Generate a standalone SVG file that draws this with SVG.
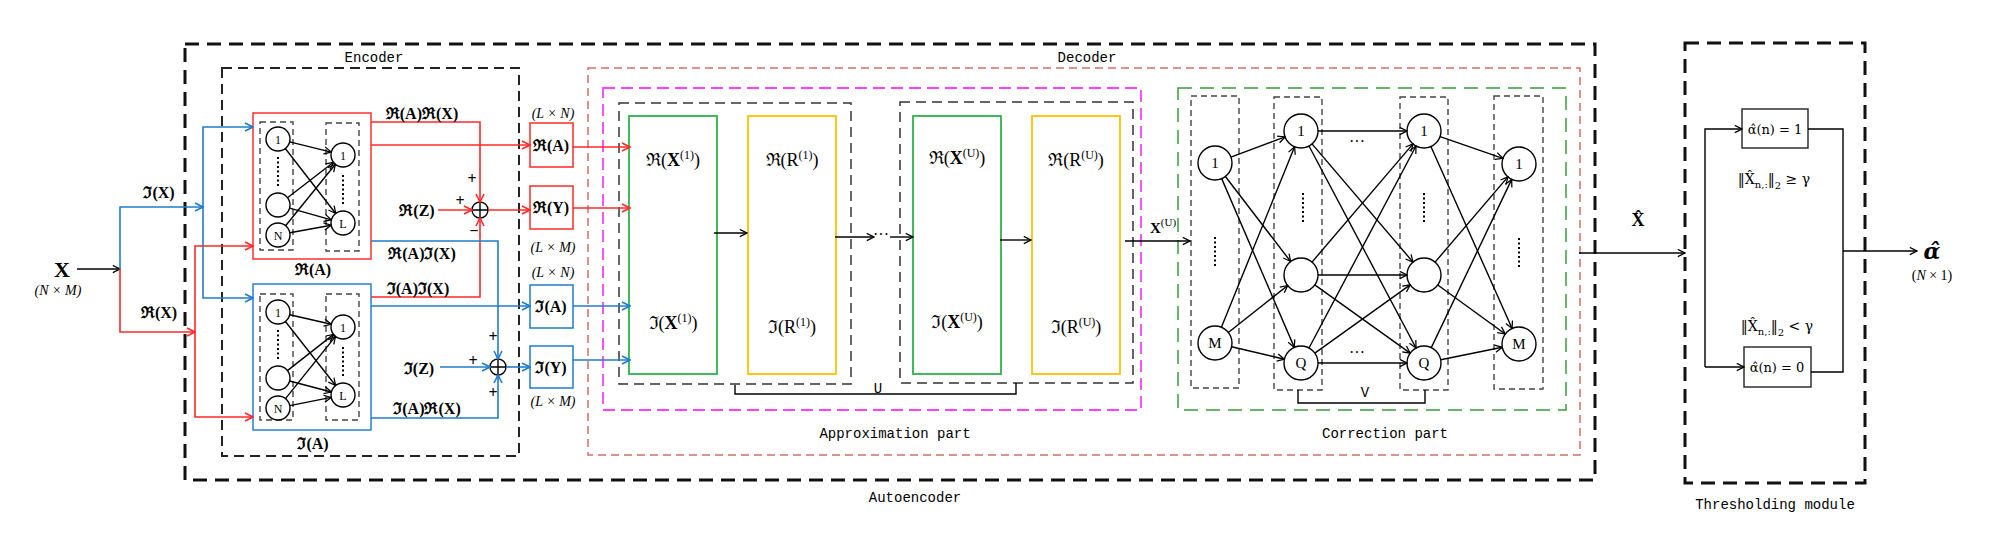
<svg xmlns="http://www.w3.org/2000/svg" width="1992" height="557" viewBox="0 0 1992 557">
<style>
text{fill:#000}
.lbl{font-family:"Liberation Mono","DejaVu Sans Mono",monospace;font-size:14px}
.m{font-family:"Liberation Serif","DejaVu Serif",serif}
.dj{font-family:"DejaVu Serif","Liberation Serif",serif}
.mb{font-family:"Liberation Serif","DejaVu Serif",serif;font-weight:bold;font-size:16px}
.nd{font-family:"Liberation Serif","DejaVu Serif",serif;font-size:12px}
.nc{font-family:"Liberation Serif","DejaVu Serif",serif;font-size:15px}
.big{font-family:"Liberation Serif","DejaVu Serif",serif;font-size:18px}
.c{fill:#fff;stroke:#000;stroke-width:1.4}
.col{fill:none;stroke:#444;stroke-width:1.4;stroke-dasharray:6 4}
.dots{fill:none;stroke:#000;stroke-width:2;stroke-dasharray:2 2.5}
.k{fill:none;stroke:#000;stroke-width:1.4}
.r{fill:none;stroke:#ff2a2a;stroke-width:1.6}
.b{fill:none;stroke:#1f7ccc;stroke-width:1.6}
</style>
<defs>
<marker id="ak" viewBox="0 0 10 10" refX="9" refY="5" markerWidth="9" markerHeight="9" markerUnits="userSpaceOnUse" orient="auto"><path d="M1,1 L9,5 L1,9" fill="none" stroke="#000" stroke-width="1.4"/></marker>
<marker id="ar" viewBox="0 0 10 10" refX="9" refY="5" markerWidth="10" markerHeight="10" markerUnits="userSpaceOnUse" orient="auto"><path d="M1,1 L9,5 L1,9" fill="none" stroke="#ff2a2a" stroke-width="1.6"/></marker>
<marker id="ab" viewBox="0 0 10 10" refX="9" refY="5" markerWidth="10" markerHeight="10" markerUnits="userSpaceOnUse" orient="auto"><path d="M1,1 L9,5 L1,9" fill="none" stroke="#1f7ccc" stroke-width="1.6"/></marker>
</defs>
<rect width="1992" height="557" fill="#fff"/>

<!-- containers -->
<g id="autoencoder">
<rect x="185" y="44" width="1410" height="436" fill="none" stroke="#111" stroke-width="3" stroke-dasharray="14 8"/>
<text class="lbl" x="915" y="502" text-anchor="middle">Autoencoder</text>
</g>
<g id="encoder">
<rect x="222" y="68" width="297" height="388" fill="none" stroke="#222" stroke-width="2" stroke-dasharray="10 6"/>
<text class="lbl" x="374" y="62" text-anchor="middle">Encoder</text>
</g>
<g id="decoder">
<rect x="588" y="68" width="992" height="387" fill="none" stroke="#d0706a" stroke-width="1.5" stroke-dasharray="8 5"/>
<text class="lbl" x="1087" y="62" text-anchor="middle">Decoder</text>
</g>
<g id="approximation">
<rect x="603" y="88" width="538" height="322" fill="none" stroke="#ff40ff" stroke-width="1.8" stroke-dasharray="12 6"/>
<text class="lbl" x="895" y="438" text-anchor="middle">Approximation part</text>
<rect x="619" y="103" width="232" height="281" fill="none" stroke="#333" stroke-width="1.5" stroke-dasharray="10 6"/>
<rect x="900" y="102" width="233" height="281" fill="none" stroke="#333" stroke-width="1.5" stroke-dasharray="10 6"/>
</g>
<g id="correction">
<rect x="1178" y="88" width="388" height="322" fill="none" stroke="#3a9a3a" stroke-width="1.5" stroke-dasharray="14 8"/>
<text class="lbl" x="1385" y="438" text-anchor="middle">Correction part</text>
<rect class="col" x="1191" y="96" width="48" height="292"/>
<rect class="col" x="1274" y="97" width="48" height="293"/>
<rect class="col" x="1400" y="97" width="48" height="293"/>
<rect class="col" x="1494" y="96" width="49" height="293"/>
</g>
<g id="thresholding">
<rect x="1685" y="43" width="180" height="440" fill="none" stroke="#111" stroke-width="3" stroke-dasharray="14 8"/>
<text class="lbl" x="1775" y="509" text-anchor="middle">Thresholding module</text>
</g>

<!-- input -->
<g id="input-X">
<text class="m" x="62" y="277" text-anchor="middle" font-size="22" font-weight="bold">X</text>
<text class="m" x="58" y="295" text-anchor="middle" font-size="14" font-style="italic">(N × M)</text>
</g>

<!-- encoder real net -->
<g id="enc-real">
<rect x="253" y="113" width="118" height="146" fill="none" stroke="#ff3030" stroke-width="1.5"/>
<rect class="col" x="260" y="122" width="33" height="128"/>
<rect class="col" x="326" y="123" width="33" height="128"/>
<circle class="c" cx="278" cy="139" r="12"/><text class="nd" x="278" y="143.5" text-anchor="middle">1</text>
<line class="dots" x1="278" y1="157" x2="278" y2="188"/>
<circle class="c" cx="278" cy="205" r="12"/>
<circle class="c" cx="278" cy="235" r="12"/><text class="nd" x="278" y="239.5" text-anchor="middle" font-size="11">N</text>
<circle class="c" cx="343" cy="155" r="12"/><text class="nd" x="343" y="159.5" text-anchor="middle">1</text>
<line class="dots" x1="343" y1="175" x2="343" y2="206"/>
<circle class="c" cx="343" cy="223" r="12"/><text class="nd" x="343" y="227.5" text-anchor="middle" font-size="11">L</text>
<text class="mb" x="313" y="275" text-anchor="middle">ℜ(A)</text>
</g>
<!-- encoder imaginary net -->
<g id="enc-imag">
<rect x="253" y="284" width="118" height="146" fill="none" stroke="#2a80d0" stroke-width="1.5"/>
<rect class="col" x="260" y="294" width="33" height="126"/>
<rect class="col" x="326" y="294" width="33" height="126"/>
<circle class="c" cx="278" cy="312" r="12"/><text class="nd" x="278" y="316.5" text-anchor="middle">1</text>
<line class="dots" x1="278" y1="330" x2="278" y2="361"/>
<circle class="c" cx="278" cy="378" r="12"/>
<circle class="c" cx="278" cy="408" r="12"/><text class="nd" x="278" y="412.5" text-anchor="middle" font-size="11">N</text>
<circle class="c" cx="343" cy="327" r="12"/><text class="nd" x="343" y="331.5" text-anchor="middle">1</text>
<line class="dots" x1="343" y1="347" x2="343" y2="378"/>
<circle class="c" cx="343" cy="395" r="12"/><text class="nd" x="343" y="399.5" text-anchor="middle" font-size="11">L</text>
<text class="mb" x="313" y="449" text-anchor="middle">ℑ(A)</text>
</g>

<!-- sum nodes -->
<g id="sum-real">
<circle cx="480" cy="210" r="8" fill="#fff" stroke="#000" stroke-width="1.4"/>
<path d="M472,210 H488 M480,202 V218" stroke="#000" stroke-width="1.4"/>
<text class="mb" x="472" y="184" text-anchor="middle">+</text>
<text class="mb" x="460" y="206" text-anchor="middle">+</text>
<text class="mb" x="474" y="236" text-anchor="middle">−</text>
</g>
<g id="sum-imag">
<circle cx="498" cy="367" r="8" fill="#fff" stroke="#000" stroke-width="1.4"/>
<path d="M490,367 H506 M498,359 V375" stroke="#000" stroke-width="1.4"/>
<text class="mb" x="493" y="342" text-anchor="middle">+</text>
<text class="mb" x="473" y="366" text-anchor="middle">+</text>
<text class="mb" x="493" y="398" text-anchor="middle">+</text>
</g>

<!-- small boxes -->
<g id="box-ReA">
<rect x="530" y="123" width="43" height="44" fill="none" stroke="#ff2a2a" stroke-width="1.5"/>
<text class="mb" x="551" y="151" text-anchor="middle">ℜ(A)</text>
<text class="m" x="553" y="118" text-anchor="middle" font-size="14" font-style="italic">(L × N)</text>
</g>
<g id="box-ReY">
<rect x="530" y="186" width="43" height="43" fill="none" stroke="#ff2a2a" stroke-width="1.5"/>
<text class="mb" x="551" y="213" text-anchor="middle">ℜ(Y)</text>
<text class="m" x="553" y="252" text-anchor="middle" font-size="14" font-style="italic">(L × M)</text>
</g>
<g id="box-ImA">
<rect x="530" y="285" width="43" height="43" fill="none" stroke="#1f7ccc" stroke-width="1.5"/>
<text class="mb" x="551" y="312" text-anchor="middle">ℑ(A)</text>
<text class="m" x="553" y="277" text-anchor="middle" font-size="14" font-style="italic">(L × N)</text>
</g>
<g id="box-ImY">
<rect x="530" y="346" width="43" height="42" fill="none" stroke="#1f7ccc" stroke-width="1.5"/>
<text class="mb" x="551" y="373" text-anchor="middle">ℑ(Y)</text>
<text class="m" x="553" y="406" text-anchor="middle" font-size="14" font-style="italic">(L × M)</text>
</g>

<!-- approximation blocks -->
<g id="layer1-x">
<rect x="629" y="116" width="88" height="258" fill="none" stroke="#2cb34a" stroke-width="1.8"/>
<text class="big" x="673" y="166" text-anchor="middle">ℜ(<tspan font-weight="bold">X</tspan><tspan font-size="12" dy="-7">(1)</tspan><tspan dy="7">)</tspan></text>
<text class="big" x="673" y="329" text-anchor="middle">ℑ(<tspan font-weight="bold">X</tspan><tspan font-size="12" dy="-7">(1)</tspan><tspan dy="7">)</tspan></text>
</g>
<g id="layer1-r">
<rect x="748" y="116" width="88" height="258" fill="none" stroke="#ffc000" stroke-width="1.8"/>
<text class="big" x="792" y="166" text-anchor="middle">ℜ(R<tspan font-size="12" dy="-7">(1)</tspan><tspan dy="7">)</tspan></text>
<text class="big" x="792" y="333" text-anchor="middle">ℑ(R<tspan font-size="12" dy="-7">(1)</tspan><tspan dy="7">)</tspan></text>
</g>
<g id="layerU-x">
<rect x="913" y="116" width="88" height="258" fill="none" stroke="#2cb34a" stroke-width="1.8"/>
<text class="big" x="957" y="164" text-anchor="middle">ℜ(<tspan font-weight="bold">X</tspan><tspan font-size="12" dy="-7">(U)</tspan><tspan dy="7">)</tspan></text>
<text class="big" x="957" y="328" text-anchor="middle">ℑ(<tspan font-weight="bold">X</tspan><tspan font-size="12" dy="-7">(U)</tspan><tspan dy="7">)</tspan></text>
</g>
<g id="layerU-r">
<rect x="1032" y="116" width="88" height="258" fill="none" stroke="#ffc000" stroke-width="1.8"/>
<text class="big" x="1076" y="166" text-anchor="middle">ℜ(R<tspan font-size="12" dy="-7">(U)</tspan><tspan dy="7">)</tspan></text>
<text class="big" x="1076" y="333" text-anchor="middle">ℑ(R<tspan font-size="12" dy="-7">(U)</tspan><tspan dy="7">)</tspan></text>
</g>
<g id="bracket-U">
<path class="k" d="M735,385 V394 H1016 V383" stroke="#333"/>
<text class="lbl" x="878" y="393" text-anchor="middle">U</text>
</g>

<!-- correction nodes -->
<g id="corr-nodes">
<circle class="c" cx="1215" cy="163" r="17"/><text class="nc" x="1215" y="168" text-anchor="middle">1</text>
<line class="dots" x1="1215" y1="237" x2="1215" y2="268"/>
<circle class="c" cx="1215" cy="343" r="17"/><text class="nc" x="1215" y="348" text-anchor="middle" font-size="13">M</text>
<circle class="c" cx="1301" cy="131" r="17"/><text class="nc" x="1301" y="136" text-anchor="middle">1</text>
<line class="dots" x1="1303" y1="193" x2="1303" y2="224"/>
<circle class="c" cx="1301" cy="275" r="17"/>
<circle class="c" cx="1301" cy="363" r="17"/><text class="nc" x="1301" y="368" text-anchor="middle" font-size="13">Q</text>
<circle class="c" cx="1424" cy="131" r="17"/><text class="nc" x="1424" y="136" text-anchor="middle">1</text>
<line class="dots" x1="1424" y1="193" x2="1424" y2="224"/>
<circle class="c" cx="1424" cy="275" r="17"/>
<circle class="c" cx="1424" cy="363" r="17"/><text class="nc" x="1424" y="368" text-anchor="middle" font-size="13">Q</text>
<circle class="c" cx="1519" cy="164" r="17"/><text class="nc" x="1519" y="169" text-anchor="middle">1</text>
<line class="dots" x1="1519" y1="238" x2="1519" y2="269"/>
<circle class="c" cx="1519" cy="344" r="17"/><text class="nc" x="1519" y="349" text-anchor="middle" font-size="13">M</text>
<text class="m" x="1357" y="147" text-anchor="middle" font-size="16">···</text>
<text class="m" x="1357" y="358" text-anchor="middle" font-size="16">···</text>
</g>
<g id="bracket-V">
<path class="k" d="M1298,390 V403 H1425 V390" stroke="#333"/>
<text class="lbl" x="1365" y="397" text-anchor="middle">V</text>
</g>

<!-- threshold blocks -->
<g id="alpha1">
<rect x="1742" y="109" width="66" height="39" fill="none" stroke="#222" stroke-width="1.4"/>
<text class="dj" x="1775" y="134" text-anchor="middle" font-size="13">α̂(n) = 1</text>
<text class="dj" x="1774" y="184" text-anchor="middle" font-size="14">‖X̂<tspan font-size="10" dy="4">n,:</tspan><tspan dy="-4">‖</tspan><tspan font-size="10" dy="5">2</tspan><tspan dy="-5"> ≥ γ</tspan></text>
</g>
<g id="alpha0">
<rect x="1744" y="347" width="67" height="40" fill="none" stroke="#222" stroke-width="1.4"/>
<text class="dj" x="1777" y="372" text-anchor="middle" font-size="13">α̂(n) = 0</text>
<text class="dj" x="1777" y="331" text-anchor="middle" font-size="14">‖X̂<tspan font-size="10" dy="4">n,:</tspan><tspan dy="-4">‖</tspan><tspan font-size="10" dy="5">2</tspan><tspan dy="-5"> &lt; γ</tspan></text>
</g>
<g id="output">
<text class="dj" x="1932" y="259" text-anchor="middle" font-size="22" font-weight="bold" font-style="italic">α̂</text>
<text class="m" x="1932" y="280" text-anchor="middle" font-size="14">(<tspan font-style="italic">N</tspan> × 1)</text>
</g>

<!-- connectors -->
<g id="connectors">
<path class="k" d="M77,269 H120" marker-end="url(#ak)"/>
<path class="b" d="M120,269 V207 H203" marker-end="url(#ab)"/>
<path class="b" d="M203,207 V127 H253" marker-end="url(#ab)"/>
<path class="b" d="M203,207 V298 H253" marker-end="url(#ab)"/>
<path class="r" d="M120,269 V332 H195" marker-end="url(#ar)"/>
<path class="r" d="M195,332 V246 H253" marker-end="url(#ar)"/>
<path class="r" d="M195,332 V417 H253" marker-end="url(#ar)"/>
<text class="mb" x="159" y="198" text-anchor="middle">ℑ(X)</text>
<text class="mb" x="159" y="318" text-anchor="middle">ℜ(X)</text>

<!-- encoder net edges -->
<g class="k" marker-end="url(#ak)">
<line x1="289.7" y1="141.9" x2="331.3" y2="152.1"/>
<line x1="285.3" y1="148.5" x2="335.7" y2="213.5"/>
<line x1="287.5" y1="197.7" x2="333.5" y2="162.3"/>
<line x1="289.6" y1="208.2" x2="331.4" y2="219.8"/>
<line x1="285.6" y1="225.7" x2="335.4" y2="164.3"/>
<line x1="289.8" y1="232.8" x2="331.2" y2="225.2"/>
<line x1="289.7" y1="314.7" x2="331.3" y2="324.3"/>
<line x1="285.4" y1="321.5" x2="335.6" y2="385.5"/>
<line x1="287.4" y1="370.6" x2="333.6" y2="334.4"/>
<line x1="289.6" y1="381.0" x2="331.4" y2="392.0"/>
<line x1="285.5" y1="398.6" x2="335.5" y2="336.4"/>
<line x1="289.8" y1="405.6" x2="331.2" y2="397.4"/>
</g>

<!-- encoder outputs -->
<path class="r" d="M371,122 H480 V202" marker-end="url(#ar)"/>
<path class="r" d="M371,145 H530" marker-end="url(#ar)"/>
<path class="r" d="M438,210 H472" marker-end="url(#ar)"/>
<path class="r" d="M488,210 H530" marker-end="url(#ar)"/>
<path class="r" d="M371,297 H480 V218" marker-end="url(#ar)"/>
<path class="b" d="M371,241 H498 V359" marker-end="url(#ab)"/>
<path class="b" d="M371,306 H530" marker-end="url(#ab)"/>
<path class="b" d="M371,418 H498 V375" marker-end="url(#ab)"/>
<path class="b" d="M440,367 H490" marker-end="url(#ab)"/>
<path class="b" d="M506,367 H530" marker-end="url(#ab)"/>
<text class="mb" x="422" y="119" text-anchor="middle">ℜ(A)ℜ(X)</text>
<text class="mb" x="417" y="216" text-anchor="middle">ℜ(Z)</text>
<text class="mb" x="422" y="259" text-anchor="middle">ℜ(A)ℑ(X)</text>
<text class="mb" x="418" y="294" text-anchor="middle">ℑ(A)ℑ(X)</text>
<text class="mb" x="419" y="374" text-anchor="middle">ℑ(Z)</text>
<text class="mb" x="427" y="414" text-anchor="middle">ℑ(A)ℜ(X)</text>

<!-- into decoder -->
<path class="r" d="M573,147 H630" marker-end="url(#ar)"/>
<path class="r" d="M573,208 H630" marker-end="url(#ar)"/>
<path class="b" d="M573,306 H630" marker-end="url(#ab)"/>
<path class="b" d="M573,360 H630" marker-end="url(#ab)"/>

<path class="k" d="M714,233 H747" marker-end="url(#ak)"/>
<path class="k" d="M835,237 H874" marker-end="url(#ak)"/>
<text class="m" x="881" y="240" text-anchor="middle" font-size="16">···</text>
<path class="k" d="M890,237 H913" marker-end="url(#ak)"/>
<path class="k" d="M1000,240 H1031" marker-end="url(#ak)"/>
<path class="k" d="M1125,241 H1190" marker-end="url(#ak)"/>
<text class="m" x="1150" y="233" font-size="15" font-weight="bold">X<tspan font-weight="normal" font-size="11" dy="-7">(U)</tspan></text>

<!-- correction edges -->
<g class="k" stroke-width="1.2" marker-end="url(#ak)">
<line x1="1230.9" y1="157.1" x2="1285.1" y2="136.9"/>
<line x1="1225.4" y1="176.5" x2="1290.6" y2="261.5"/>
<line x1="1221.7" y1="178.6" x2="1294.3" y2="347.4"/>
<line x1="1221.4" y1="327.2" x2="1294.6" y2="146.8"/>
<line x1="1228.3" y1="332.5" x2="1287.7" y2="285.5"/>
<line x1="1231.6" y1="346.8" x2="1284.4" y2="359.2"/>
<line x1="1318" y1="131" x2="1407" y2="131"/>
<line x1="1312.0" y1="143.9" x2="1413.0" y2="262.1"/>
<line x1="1309.0" y1="146.0" x2="1416.0" y2="348.0"/>
<line x1="1312.0" y1="262.1" x2="1413.0" y2="143.9"/>
<line x1="1318" y1="275" x2="1407" y2="275"/>
<line x1="1314.8" y1="284.9" x2="1410.2" y2="353.1"/>
<line x1="1309.0" y1="348.0" x2="1416.0" y2="146.0"/>
<line x1="1314.8" y1="353.1" x2="1410.2" y2="284.9"/>
<line x1="1318" y1="363" x2="1407" y2="363"/>
<line x1="1440.1" y1="136.6" x2="1502.9" y2="158.4"/>
<line x1="1430.9" y1="146.5" x2="1512.1" y2="328.5"/>
<line x1="1435.1" y1="262.1" x2="1507.9" y2="176.9"/>
<line x1="1437.8" y1="285.0" x2="1505.2" y2="334.0"/>
<line x1="1431.3" y1="347.6" x2="1511.7" y2="179.4"/>
<line x1="1440.7" y1="359.7" x2="1502.3" y2="347.3"/>
</g>

<!-- to threshold -->
<path class="k" d="M1579,253 H1685" marker-end="url(#ak)"/>
<text class="m" x="1638" y="226" text-anchor="middle" font-size="18" font-weight="bold">X̂</text>
<path class="k" d="M1705,367 V129 H1742" marker-end="url(#ak)"/>
<path class="k" d="M1705,367 H1744" marker-end="url(#ak)"/>
<path class="k" d="M1808,129 H1843 V372 H1811"/>
<path class="k" d="M1843,251 H1917" marker-end="url(#ak)"/>
</g>
</svg>
